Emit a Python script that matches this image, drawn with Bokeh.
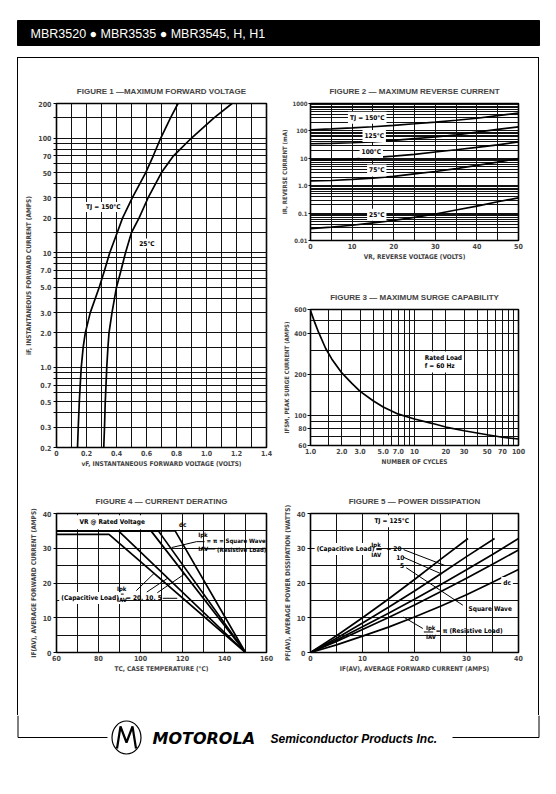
import json
from bokeh.plotting import figure
from bokeh.layouts import column, row
from bokeh.models import Range1d, FixedTicker, CustomJSTickFormatter, Label
from bokeh.embed import file_html
from bokeh.resources import INLINE
from bokeh.core.properties import value

# ---------------- texts ----------------
HEADER_TEXT = "MBR3520 \u25cf MBR3535 \u25cf MBR3545, H, H1"
FOOT_BRAND = "MOTOROLA"
FOOT_TEXT = "Semiconductor Products Inc."

# ---------------- Figure 1: max forward voltage ----------------
f1_if = [0.2, 0.3, 0.5, 0.7, 1.0, 1.5, 2.0, 3.0, 5.0, 7.0, 10, 15, 20, 30, 50, 70, 100, 150, 200]
f1_vf_150 = [0.14, 0.145, 0.152, 0.158, 0.165, 0.178, 0.192, 0.225, 0.285, 0.32, 0.355, 0.405, 0.44,
             0.505, 0.595, 0.645, 0.695, 0.76, 0.81]
f1_vf_25 = [0.315, 0.32, 0.325, 0.33, 0.335, 0.343, 0.35, 0.37, 0.40, 0.43, 0.46, 0.50, 0.55,
            0.61, 0.70, 0.78, 0.90, 1.05, 1.17]
f1_x_ticks = [0, 0.2, 0.4, 0.6, 0.8, 1.0, 1.2, 1.4]
f1_x_labels = ["0", "0.2", "0.4", "0.6", "0.8", "1.0", "1.2", "1.4"]
f1_y_ticks = [0.2, 0.3, 0.5, 0.7, 1, 2, 3, 5, 7, 10, 20, 30, 50, 70, 100, 200]
f1_y_labels = ["0.2", "0.3", "0.5", "0.7", "1.0", "2.0", "3.0", "5.0", "7.0", "10", "20", "30",
               "50", "70", "100", "200"]

# ---------------- Figure 2: max reverse current ----------------
f2_vr = [0, 5, 10, 15, 20, 25, 30, 35, 40, 45, 50]
f2_ir_150 = [110, 118, 128, 142, 160, 182, 210, 245, 290, 360, 450]
f2_ir_125 = [34, 35, 37, 40, 45, 52, 60, 72, 90, 113, 140]
f2_ir_100 = [8.5, 8.8, 9.3, 10.5, 12, 14, 17, 20.5, 25, 31, 40]
f2_ir_75 = [1.5, 1.55, 1.7, 1.9, 2.2, 2.7, 3.3, 4.2, 5.5, 7.3, 9.8]
f2_ir_25 = [0.027, 0.031, 0.036, 0.044, 0.054, 0.07, 0.093, 0.13, 0.18, 0.26, 0.36]
f2_x_ticks = [0, 10, 20, 30, 40, 50]
f2_x_labels = ["0", "10", "20", "30", "40", "50"]
f2_y_ticks = [0.01, 0.1, 1, 10, 100, 1000]
f2_y_labels = ["0.01", "0.1", "1.0", "10", "100", "1000"]

# ---------------- Figure 3: max surge capability ----------------
f3_cycles = [1.0, 1.1, 1.2, 1.4, 1.6, 2.0, 2.5, 3.0, 4.0, 5.0, 7.0, 10, 15, 20, 30, 50, 70, 100]
f3_ifsm = [590, 480, 405, 310, 260, 205, 172, 150, 128, 115, 102, 94, 87, 82, 77, 72, 69, 67]
f3_x_ticks = [1, 2, 3, 5, 7, 10, 20, 30, 50, 70, 100]
f3_x_labels = ["1.0", "2.0", "3.0", "5.0", "7.0", "10", "20", "30", "50", "70", "100"]
f3_y_ticks = [60, 80, 100, 200, 400, 600]
f3_y_labels = ["60", "80", "100", "200", "400", "600"]

# ---------------- Figure 4: current derating ----------------
f4_tc_20 = [60, 85, 150]
f4_if_20 = [34, 34, 0]
f4_tc_10 = [60, 89.5, 150]
f4_if_10 = [35, 35, 0]
f4_tc_5 = [60, 105, 150]
f4_if_5 = [35, 35, 0]
f4_tc_sq = [60, 108.5, 150]
f4_if_sq = [35, 35, 0]
f4_tc_dc = [60, 116.5, 150]
f4_if_dc = [35, 35, 0]
f4_x_ticks = [60, 80, 100, 120, 140, 160]
f4_x_labels = ["60", "80", "100", "120", "140", "160"]
f4_y_ticks = [0, 10, 20, 30, 40]
f4_y_labels = ["0", "10", "20", "30", "40"]

# ---------------- Figure 5: power dissipation ----------------
f5_i_20 = [0, 5, 10, 15, 20, 25, 30.3]
f5_p_20 = [0, 4.8, 10.0, 15.4, 21.0, 26.8, 32.8]
f5_i_10 = [0, 5, 10, 15, 20, 25, 30, 35.4]
f5_p_10 = [0, 4.1, 8.5, 13.0, 17.7, 22.6, 27.6, 32.8]
f5_i_5 = [0, 5, 10, 15, 20, 25, 30, 35, 40]
f5_p_5 = [0, 3.6, 7.4, 11.3, 15.3, 19.5, 23.8, 28.2, 32.8]
f5_i_sq = [0, 5, 10, 15, 20, 25, 30, 35, 40]
f5_p_sq = [0, 3.2, 6.6, 10.1, 13.7, 17.5, 21.4, 25.4, 29.5]
f5_i_dc = [0, 5, 10, 15, 20, 25, 30, 35, 40]
f5_p_dc = [0, 2.2, 4.7, 7.3, 10.2, 13.3, 16.6, 20.2, 23.9]
f5_x_ticks = [0, 10, 20, 30, 40]
f5_x_labels = ["0", "10", "20", "30", "40"]
f5_y_ticks = [0, 10, 20, 30, 40]
f5_y_labels = ["0", "10", "20", "30", "40"]

# ---------------- helpers ----------------
COND = "'Liberation Sans Narrow', 'DejaVu Sans Condensed', 'DejaVu Sans'"
TITLE_FONT = "Liberation Sans"


def fmt(ticks, labels):
    pairs = json.dumps([[t, s] for t, s in zip(ticks, labels)])
    return CustomJSTickFormatter(code=(
        "const m = " + pairs + ";\n"
        "for (const [v, s] of m) { if (Math.abs(v - tick) <= 1e-9 * Math.max(1, Math.abs(v))) return s; }\n"
        "return '';"))


def log_grid(lo, hi, mant):
    out = []
    for e in range(-3, 4):
        for m in mant:
            v = m * 10 ** e
            if lo * 0.999 <= v <= hi * 1.001:
                out.append(v)
    return out


def lin_grid(lo, hi, step):
    n = int(round((hi - lo) / step))
    return [lo + k * step for k in range(n + 1)]


def chart(title, width, height, borders, xr, yr, xtype="linear", ytype="linear", toff=0):
    bl, br, bt, bb = borders
    p = figure(width=width, height=height, x_range=Range1d(*xr), y_range=Range1d(*yr),
               x_axis_type=xtype, y_axis_type=ytype, output_backend="svg", toolbar_location=None,
               min_border_left=bl, min_border_right=br, min_border_top=bt, min_border_bottom=bb,
               background_fill_color="white", border_fill_color="white",
               outline_line_color="black", outline_line_width=1.6, title=title)
    p.title.text_font = TITLE_FONT
    p.title.text_font_size = "8px"
    p.title.text_font_style = "bold"
    p.title.align = "center"
    p.title.offset = toff
    p.title.standoff = 16
    return p


def axes(p, xt, xl, yt, yl, xlabel, ylabel, xgrid, ygrid, ymarks=None, ysize="7px", ytick=3,
         ylabsize="6.5px"):
    p.xaxis.ticker = FixedTicker(ticks=xt)
    p.xaxis.formatter = fmt(xt, xl)
    p.yaxis.ticker = FixedTicker(ticks=ymarks if ymarks else yt)
    p.yaxis.formatter = fmt(yt, yl)
    p.xgrid.ticker = FixedTicker(ticks=xgrid)
    p.ygrid.ticker = FixedTicker(ticks=ygrid)
    for g in (p.xgrid[0], p.ygrid[0]):
        g.grid_line_color = "#111111"
        g.grid_line_alpha = 1
        g.grid_line_width = 1
    for ax, lab in ((p.xaxis[0], xlabel), (p.yaxis[0], ylabel)):
        ax.axis_label = lab
        ax.axis_label_text_font = COND
        ax.axis_label_text_font_size = "6.5px"
        ax.axis_label_text_font_style = "bold"
        ax.major_label_text_font = COND
        ax.major_label_text_font_style = "bold"
        ax.axis_line_color = None
        ax.minor_tick_line_color = None
        ax.major_tick_in = 0
        ax.major_tick_line_color = "black"
    xa, ya = p.xaxis[0], p.yaxis[0]
    xa.major_tick_out = 0
    xa.major_label_standoff = 2
    xa.axis_label_standoff = 1
    xa.major_label_text_font_size = "7px"
    ya.major_tick_out = ytick
    ya.major_label_standoff = 2
    ya.axis_label_standoff = 2
    ya.major_label_text_font_size = ysize
    ya.axis_label_text_font_size = ylabsize


def curve(p, x, y):
    p.line(x, y, line_color="black", line_width=1.7)


def note(p, x, y, text, bg=True, size="6.5px", align="left", pad=1):
    p.add_layout(Label(x=x, y=y, text=text, text_font=COND, text_font_size=size,
                       text_font_style="bold", text_align=align, text_baseline="middle",
                       text_color="black",
                       background_fill_color="white" if bg else None, padding=pad))


def frac(p, x, ytop, ybot, ybar, x0, x1):
    note(p, x, ytop, "Ipk", bg=False, size="6px")
    note(p, x, ybot, "IAV", bg=False, size="6px")
    p.line([x0, x1], [ybar, ybar], line_color="black", line_width=1)


def leader(p, xs, ys):
    p.line(xs, ys, line_color="black", line_width=1)


# ---------------- Figure 1 ----------------
p1 = chart("FIGURE 1 \u2014MAXIMUM FORWARD VOLTAGE", 260, 420, (38, 12, 45, 31), (0, 1.4), (0.2, 200),
           ytype="log", toff=-11)
axes(p1, f1_x_ticks, f1_x_labels, f1_y_ticks, f1_y_labels,
     "vF, INSTANTANEOUS FORWARD VOLTAGE (VOLTS)", "iF, INSTANTANEOUS FORWARD CURRENT (AMPS)",
     lin_grid(0, 1.4, 0.1), log_grid(0.2, 200, [1, 1.5, 2, 3, 4, 5, 6, 7, 8, 9]),
     ymarks=log_grid(0.2, 200, [1, 1.5, 2, 3, 4, 5, 6, 7, 8, 9]))
curve(p1, f1_vf_150, f1_if)
curve(p1, f1_vf_25, f1_if)
note(p1, 0.19, 25, "TJ = 150\u00b0C")
note(p1, 0.545, 12, "25\u00b0C")

# ---------------- Figure 2 ----------------
p2 = chart("FIGURE 2 \u2014 MAXIMUM REVERSE CURRENT", 260, 214, (31, 20, 45, 32), (0, 50), (0.01, 1000),
           ytype="log", toff=-11)
axes(p2, f2_x_ticks, f2_x_labels, f2_y_ticks, f2_y_labels,
     "VR, REVERSE VOLTAGE (VOLTS)", "IR, REVERSE CURRENT (mA)",
     lin_grid(0, 50, 5), log_grid(0.01, 1000, [1, 2, 3, 4, 5, 6, 7, 8, 9]), ysize="6px", ytick=2,
     ylabsize="6px")
p2.yaxis[0].major_label_standoff = 1
p2.yaxis[0].axis_label_standoff = 1
for ir in (f2_ir_150, f2_ir_125, f2_ir_100, f2_ir_75, f2_ir_25):
    curve(p2, f2_vr, ir)
note(p2, 9.0, 300, "TJ = 150\u00b0C", pad=2)
note(p2, 12.5, 65, "125\u00b0C", pad=2)
note(p2, 11.8, 17, "100\u00b0C", pad=2)
note(p2, 13.6, 3.6, "75\u00b0C", pad=2)
note(p2, 13.6, 0.087, "25\u00b0C", pad=2)

# ---------------- Figure 3 ----------------
p3 = chart("FIGURE 3 \u2014 MAXIMUM SURGE CAPABILITY", 260, 206, (31, 16, 37, 33), (1, 100), (60, 600),
           xtype="log", ytype="log", toff=-5)
axes(p3, f3_x_ticks, f3_x_labels, f3_y_ticks, f3_y_labels,
     "NUMBER OF CYCLES", "IFSM, PEAK SURGE CURRENT (AMPS)",
     log_grid(1, 100, [1, 1.5, 2, 3, 4, 5, 6, 7, 8, 9]),
     [60, 70, 80, 90, 100, 150, 200, 300, 400, 500, 600], ysize="6.5px", ylabsize="6px")
p3.yaxis[0].major_label_standoff = 1
p3.yaxis[0].axis_label_standoff = 1
curve(p3, f3_cycles, f3_ifsm)
note(p3, 12.0, 266, "Rated Load", pad=2)
note(p3, 12.0, 229, "f = 60 Hz", pad=2)

# ---------------- Figure 4 ----------------
p4 = chart("FIGURE 4 \u2014 CURRENT DERATING", 260, 237, (38, 11, 35, 63), (60, 160), (0, 40), toff=-12)
axes(p4, f4_x_ticks, f4_x_labels, f4_y_ticks, f4_y_labels,
     "TC, CASE TEMPERATURE (\u00b0C)", "IF(AV), AVERAGE FORWARD CURRENT (AMPS)",
     lin_grid(60, 160, 10), lin_grid(0, 40, 5))
for tc, iff in ((f4_tc_20, f4_if_20), (f4_tc_10, f4_if_10), (f4_tc_5, f4_if_5),
                (f4_tc_sq, f4_if_sq), (f4_tc_dc, f4_if_dc)):
    curve(p4, tc, iff)
note(p4, 69.5, 37.5, "VR @ Rated Voltage", pad=3)
note(p4, 117.8, 36.8, "dc", bg=False)
frac(p4, 127.0, 34.1, 29.9, 31.9, 126.7, 130.5)
leader(p4, [126.7, 114.8], [31.9, 30.2])
note(p4, 131.0, 32.2, "= \u03c0 = Square Wave", bg=False, size="6px")
leader(p4, [130.6, 135.6], [29.8, 29.8])
note(p4, 136.0, 29.7, "(Resistive  Load)", bg=False, size="6px")
note(p4, 61.3, 15.7, "(Capacitive Load)", pad=2)
frac(p4, 88.3, 18.3, 15.3, 16.8, 88.0, 92.0)
note(p4, 92.6, 15.6, "= 20, 10, 5", bg=False)
leader(p4, [110.6, 117.5], [15.6, 15.6])
leader(p4, [98.0, 106.5], [17.8, 22.8])
leader(p4, [103.0, 113.0], [17.4, 21.4])
leader(p4, [108.0, 121.0], [17.2, 22.6])

# ---------------- Figure 5 ----------------
p5 = chart("FIGURE 5 \u2014 POWER DISSIPATION", 260, 237, (31, 19, 35, 63), (0, 40), (0, 40), toff=0)
axes(p5, f5_x_ticks, f5_x_labels, f5_y_ticks, f5_y_labels,
     "IF(AV), AVERAGE FORWARD CURRENT (AMPS)", "PF(AV), AVERAGE POWER DISSIPATION (WATTS)",
     lin_grid(0, 40, 5), lin_grid(0, 40, 5))
for ii, pp in ((f5_i_20, f5_p_20), (f5_i_10, f5_p_10), (f5_i_5, f5_p_5),
               (f5_i_sq, f5_p_sq), (f5_i_dc, f5_p_dc)):
    curve(p5, ii, pp)
note(p5, 11.9, 37.8, "TJ = 125\u00b0C", pad=2)
note(p5, 0.8, 29.8, "(Capacitive Load)", pad=2)
frac(p5, 11.5, 31.0, 28.2, 29.6, 11.3, 13.7)
note(p5, 14.4, 29.8, "= 20", bg=False)
note(p5, 16.3, 27.4, "10", bg=False)
note(p5, 17.0, 25.0, "5", bg=False)
leader(p5, [17.9, 25.9], [29.6, 25.0])
leader(p5, [17.9, 25.2], [27.4, 22.6])
leader(p5, [18.4, 29.3], [24.4, 13.6])
note(p5, 30.2, 12.6, "Square Wave", bg=False)
note(p5, 37.8, 20.0, "dc", pad=2, align="center")
frac(p5, 22.0, 7.2, 4.5, 5.9, 21.8, 23.6)
note(p5, 23.9, 6.3, "= \u03c0 (Resistive Load)", bg=False)
leader(p5, [21.6, 17.9], [6.9, 10.2])


# ---------------- header / footer canvases ----------------
def canvas(w, h):
    p = figure(width=w, height=h, x_range=Range1d(0, w), y_range=Range1d(h, 0),
               output_backend="svg", toolbar_location=None, min_border=0,
               x_axis_location=None, y_axis_location=None,
               outline_line_color=None, background_fill_color="white", border_fill_color="white")
    p.grid.visible = False
    return p


head = canvas(540, 49)
head.quad(left=[9], right=[531], top=[12], bottom=[37], fill_color="black", line_color="black")
head.text(x=[22], y=[25], text=[HEADER_TEXT], text_color="white", text_font=value("Liberation Sans"),
          text_font_size="12.5px", text_baseline="middle", text_align="left")

foot = canvas(540, 50)
foot.line([9.5, 9.5, 99], [0, 22, 22], line_color="black", line_width=1)
foot.line([444, 530.5, 530.5], [22, 22, 0], line_color="black", line_width=1)
foot.ellipse(x=[118], y=[22], width=[29], height=[33], fill_color="white", line_color="black",
             line_width=1.2)
foot.line([108.5, 112, 118, 124, 127.5], [33, 11, 27, 11, 33], line_color="black", line_width=2.2)
foot.text(x=[144], y=[23], text=[FOOT_BRAND], text_font=value("DejaVu Sans"), text_font_style="bold italic",
          text_font_size="16px", text_baseline="middle", text_align="left")
foot.text(x=[262], y=[23], text=[FOOT_TEXT], text_font=value("Liberation Sans"),
          text_font_style="bold italic", text_font_size="12px", text_baseline="middle", text_align="left")

framebox = column(row(column(p1, p4), column(p2, p3, p5)),
                  styles={"border-top": "1px solid black", "border-left": "1px solid black",
                          "border-right": "1px solid black"},
                  margin=(0, 0, 0, 9))

root = column(head, framebox, foot, margin=(8, 0, 0, 8))

open("out.html", "w").write(file_html(root, INLINE))
